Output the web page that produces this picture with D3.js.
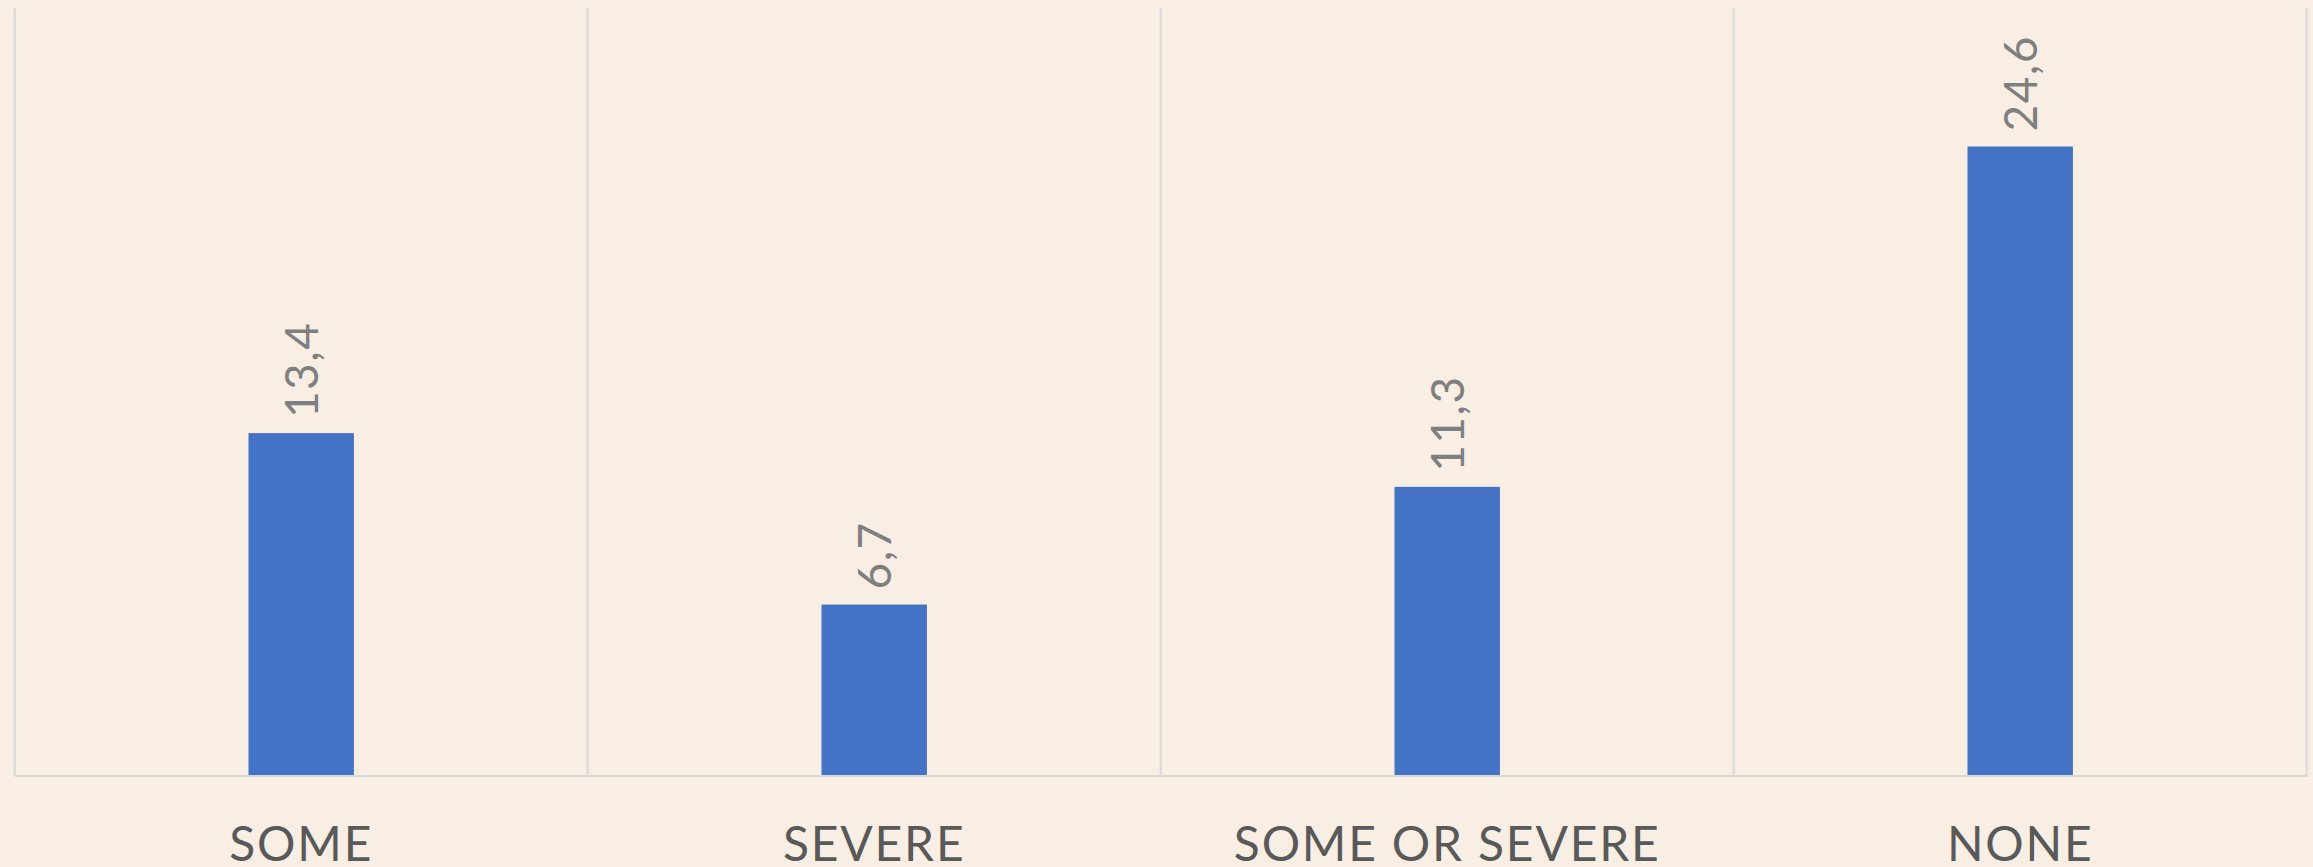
<!DOCTYPE html>
<html>
<head>
<meta charset="utf-8">
<script src="https://cdn.jsdelivr.net/npm/d3@7"></script>
<style>
  html, body { margin: 0; padding: 0; background: #f8eee4; }
  svg { display: block; }
</style>
</head>
<body>
<svg id="chart" width="2313" height="867"></svg>
<script>
const categories = ["SOME", "SEVERE", "SOME OR SEVERE", "NONE"];
const values = [13.4, 6.7, 11.3, 24.6];
const valueLabels = ["13,4", "6,7", "11,3", "24,6"];
const yDomain = [0, 30];

const W = 2313, H = 867;
const plot = { left: 14.7, right: 2306.7, top: 8.3, bottom: 776 };

const svg = d3.select("#chart");
svg.append("rect").attr("width", W).attr("height", H).attr("fill", "#f8eee4");

const xSlot = d3.scaleBand().domain(categories).range([plot.left, plot.right]).padding(0);
const xBar = d3.scaleBand().domain(categories).range([plot.left, plot.right])
  .paddingInner(0.816).paddingOuter(0.408);
const y = d3.scaleLinear().domain(yDomain).range([plot.bottom, plot.top]);

// vertical gridlines at category boundaries
const bounds = categories.map(c => xSlot(c)).concat([plot.right]);
svg.append("g").selectAll("line").data(bounds).join("line")
  .attr("x1", d => d).attr("x2", d => d)
  .attr("y1", y(yDomain[1])).attr("y2", y(0))
  .attr("stroke", "#d9d9d9").attr("stroke-width", 2);

// bars
svg.append("g").selectAll("rect").data(values).join("rect")
  .attr("x", (d, i) => xBar(categories[i]))
  .attr("width", xBar.bandwidth())
  .attr("y", d => y(d))
  .attr("height", d => y(0) - y(d))
  .attr("fill", "#4472c4");

// baseline axis
svg.append("line")
  .attr("x1", plot.left).attr("x2", plot.right)
  .attr("y1", y(0)).attr("y2", y(0))
  .attr("stroke", "#d9d9d9").attr("stroke-width", 2);

// value labels (rotated)
svg.append("g").selectAll("text").data(values).join("text")
  .attr("transform", (d, i) =>
    `translate(${xBar(categories[i]) + xBar.bandwidth() / 2},${y(d) - 15}) rotate(-90)`)
  .attr("dy", "0.36em")
  .attr("text-anchor", "start")
  .attr("font-family", "Lato, 'Open Sans', sans-serif")
  .attr("font-size", 46)
  .attr("letter-spacing", 1.5)
  .attr("fill", "#7f7f7f")
  .text((d, i) => valueLabels[i]);

// category labels
svg.append("g").selectAll("text").data(categories).join("text")
  .attr("x", d => xSlot(d) + xSlot.bandwidth() / 2)
  .attr("y", 861)
  .attr("text-anchor", "middle")
  .attr("font-family", "Lato, 'Open Sans', sans-serif")
  .attr("font-size", 48)
  .attr("letter-spacing", 1.8)
  .attr("fill", "#595959")
  .text(d => d);
</script>
</body>
</html>
